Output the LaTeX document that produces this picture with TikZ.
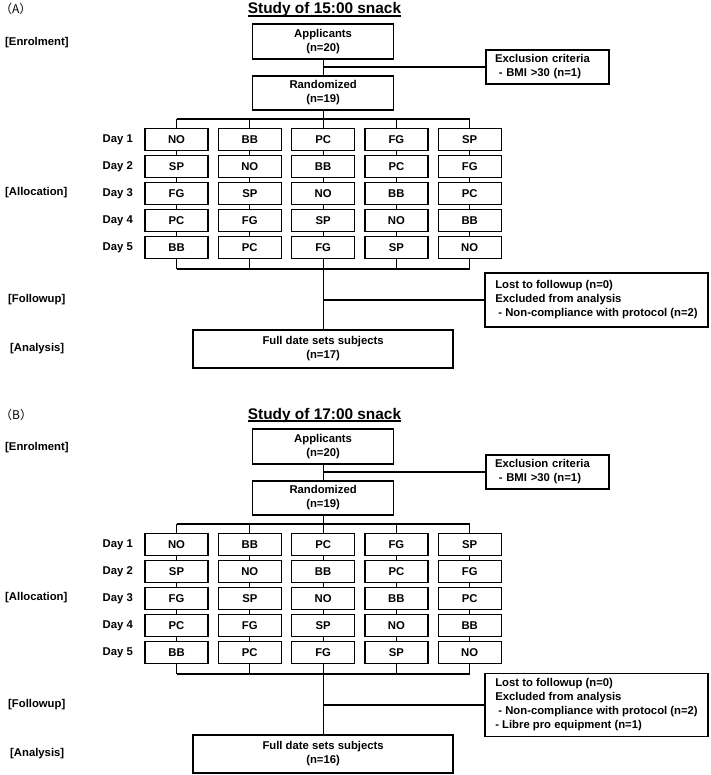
\documentclass[tikz,border=0pt]{standalone}
\usepackage{fontspec}
\setmainfont{Liberation Sans}
\newfontfamily\cjk{Noto Sans CJK JP}

\tikzset{
  txt/.style={font=\bfseries\fontsize{11.3}{14}\selectfont},
  snackbox/.style={txt,draw,line width=1.4pt,minimum width=63pt,minimum height=22pt,inner sep=0pt},
  wide/.style={txt,draw,line width=1.4pt,inner sep=0pt,align=center},
  note/.style={txt,draw,line width=1.4pt,align=left,inner xsep=9pt,inner ysep=2pt},
  stage/.style={txt,anchor=west,inner sep=0pt},
  daylab/.style={txt,anchor=east,inner sep=0pt},
  link/.style={line width=1.1pt}
}

\begin{document}
\begin{tikzpicture}[x=1pt,y=-1pt]
  \useasboundingbox (0,0) rectangle (710,775);
  \foreach \pan/\tag/\off/\clock/\nfull/\fh/\extra in
    {a/A/0/15/17/54/{}, b/B/405/17/16/63/{\\- Libre pro equipment (n=1)}}{
  \begin{scope}[yshift=-\off pt]
    % panel heading
    \node[anchor=base west,inner sep=0pt,font=\cjk\fontsize{12}{14}\selectfont] (\pan-tag) at (0,14) {（\tag）};
    \node[anchor=base,inner sep=0pt,font=\bfseries\fontsize{15.4}{18}\selectfont] (\pan-title) at (324.5,14) {Study of \clock:00 snack};
    \draw[line width=1.2pt] ([yshift=-2pt]\pan-title.base west) -- ([yshift=-2pt]\pan-title.base east);
    % stages
    \node[stage] (\pan-enrol) at (5,43) {[Enrolment]};
    \node[stage] (\pan-alloc) at (5,193) {[Allocation]};
    \node[stage] (\pan-follow) at (8,300) {[Followup]};
    \node[stage] (\pan-anal) at (10,349) {[Analysis]};
    % enrolment
    \node[wide,minimum width=141pt,minimum height=35pt] (\pan-app) at (323.1,41.5) {Applicants\\(n=20)};
    \node[wide,minimum width=141pt,minimum height=34pt] (\pan-rand) at (323.1,93) {Randomized\\(n=19)};
    \node[note,text width=105pt,minimum height=34pt] (\pan-excl) at (547.5,67) {Exclusion criteria\\\ - BMI >30 (n=1)};
    \draw[link] (\pan-app) -- (\pan-rand);
    \draw[link] (\pan-excl) -- (\pan-excl -| \pan-app);
    % allocation
    \foreach \r/\row in {1/{NO,BB,PC,FG,SP},2/{SP,NO,BB,PC,FG},3/{FG,SP,NO,BB,PC},4/{PC,FG,SP,NO,BB},5/{BB,PC,FG,SP,NO}}{
      \node[daylab] (\pan-day\r) at (133,112.5+27*\r) {Day \r};
      \foreach \s [count=\c] in \row
        \node[snackbox] (\pan-\r-\c) at (103.2+73.3*\c,112.5+27*\r) {\s};
    }
    \coordinate (\pan-bus) at (323.1,119);
    \coordinate (\pan-join) at (323.1,269);
    \draw[link] (\pan-rand) -- (\pan-bus);
    \draw[link] (\pan-bus -| \pan-1-1) -- (\pan-bus -| \pan-1-5);
    \draw[link] (\pan-join -| \pan-5-1) -- (\pan-join -| \pan-5-5);
    \foreach \c in {1,...,5}{
      \draw[link] (\pan-1-\c) -- (\pan-1-\c |- \pan-bus);
      \foreach \r [evaluate=\r as \rn using int(\r+1)] in {1,...,4}
        \draw[link] (\pan-\r-\c) -- (\pan-\rn-\c);
      \draw[link] (\pan-5-\c) -- (\pan-5-\c |- \pan-join);
    }
    % followup and analysis
    \node[wide,minimum width=260pt,minimum height=38pt] (\pan-full) at (323.1,349) {Full date sets subjects\\(n=\nfull)};
    \node[note,minimum width=223pt,minimum height=\fh pt] (\pan-fol) at (596.5,300) {Lost to followup (n=0)\\Excluded from analysis\\\ - Non-compliance with protocol (n=2)\extra};
    \draw[link] (\pan-join) -- (\pan-full);
    \draw[link] (\pan-fol) -- (\pan-fol -| \pan-full);
  \end{scope}
  }
\end{tikzpicture}
\end{document}
